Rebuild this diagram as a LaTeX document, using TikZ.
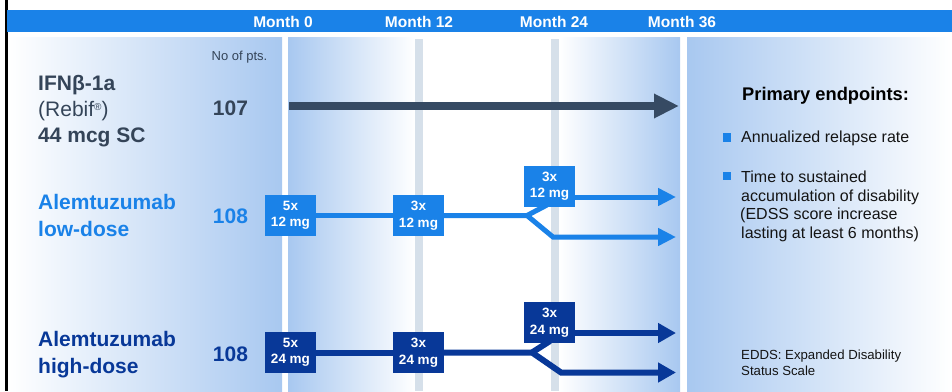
\documentclass[tikz,border=0pt]{standalone}
\usepackage{fontspec}
\setmainfont{Liberation Sans}
\usetikzlibrary{arrows.meta}
\definecolor{hdrblue}{RGB}{26,130,232}
\definecolor{panelblue}{RGB}{168,200,240}
\definecolor{navyblue}{RGB}{8,56,152}
\definecolor{slate}{RGB}{54,74,99}
\definecolor{slatetext}{RGB}{52,68,88}
\definecolor{bargray}{RGB}{214,224,234}
\definecolor{bodytext}{RGB}{20,20,20}
\pgfdeclarelayer{panels}
\pgfdeclarelayer{links}
\pgfsetlayers{panels,links,main}
\newcommand\setfs[2]{\fontsize{#1}{#2}\selectfont}
\begin{document}
\begin{tikzpicture}[x=1pt,y=-1pt,
  lbl/.style={inner sep=0pt, anchor=base west},
  clbl/.style={inner sep=0pt, anchor=base},
  month/.style={clbl, text=white, font=\bfseries\setfs{15.5}{18}},
  armname/.style={lbl, font=\bfseries\setfs{21}{26}},
  ptsnum/.style={clbl, font=\bfseries\setfs{21}{26}},
  dosebox/.style={minimum width=51pt, minimum height=41pt, inner sep=0pt,
    align=center, text=white, font=\bfseries\setfs{13.5}{16.5}},
  bodylbl/.style={lbl, text=bodytext, font=\setfs{16}{18.7}},
  bulletsq/.style={fill=hdrblue, minimum size=8.5pt, inner sep=0pt},
  ifnline/.style={draw=slate, line width=8pt, -{Triangle[length=25pt,width=23pt]}},
  lowline/.style={draw=hdrblue, line width=5pt},
  lowarrow/.style={lowline, -{Triangle[length=18pt,width=17pt]}},
  highline/.style={draw=navyblue, line width=6pt},
  higharrow/.style={highline, -{Triangle[length=18pt,width=19pt]}}
]
\useasboundingbox (0,0) rectangle (952,391);

% background panels
\begin{pgfonlayer}{panels}
\fill[black] (5,0) rectangle (7.5,391);
\fill[hdrblue] (7,10) rectangle (952,32);
\shade[left color=white,right color=panelblue] (8,37) rectangle (282,391);
\shade[left color=panelblue,right color=white] (288,37) rectangle (415,391);
\fill[bargray] (415,39) rectangle (423,391);
\fill[bargray] (551,39) rectangle (559,391);
\shade[left color=white,right color=panelblue] (559,37) rectangle (680,391);
\shade[left color=panelblue,right color=white] (687,37) rectangle (952,391);
\end{pgfonlayer}

% header
\node[month] (m0) at (283,27) {Month 0};
\node[month] (m12) at (419,27) {Month 12};
\node[month] (m24) at (554,27) {Month 24};
\node[month] (m36) at (682,27) {Month 36};

% left labels
\node[clbl, text=slatetext, font=\setfs{13}{16}] (nopts) at (239.5,60) {No of pts.};
\node[armname, text=slatetext] (ifnA) at (38,90) {IFNβ-1a};
\node[lbl, text=slatetext, font=\setfs{21}{26}] (ifnB) at (38,116) {(Rebif\raisebox{6pt}{\setfs{10}{10}®})};
\node[armname, text=slatetext] (ifnC) at (38,142) {44 mcg SC};
\node[ptsnum, text=slatetext] (n107) at (230.5,115) {107};

\node[armname, text=hdrblue] (lowA) at (38,209.5) {Alemtuzumab};
\node[armname, text=hdrblue] (lowB) at (38,236) {low-dose};
\node[ptsnum, text=hdrblue] (n108a) at (230.5,223) {108};

\node[armname, text=navyblue] (highA) at (38,346) {Alemtuzumab};
\node[armname, text=navyblue] (highB) at (38,373) {high-dose};
\node[ptsnum, text=navyblue] (n108b) at (230.5,361) {108};

% dose boxes
\node[dosebox, fill=hdrblue] (b1) at (290.5,215.5) {5x\\12 mg};
\node[dosebox, fill=hdrblue] (b2) at (418.5,215.5) {3x\\12 mg};
\node[dosebox, fill=hdrblue] (b3) at (549.5,186) {3x\\12 mg};
\node[dosebox, fill=navyblue] (h1) at (290.5,352.5) {5x\\24 mg};
\node[dosebox, fill=navyblue] (h2) at (418.5,352.5) {3x\\24 mg};
\node[dosebox, fill=navyblue] (h3) at (549.5,322.5) {3x\\24 mg};

% connector coordinates
\coordinate (ifnS) at (289,106);
\coordinate (ifnE) at (679,106);
\coordinate (lf) at (527,215.5);
\coordinate (lu) at (547,205);
\coordinate (lb) at (553,237);
\coordinate (lt) at (676,237);
\coordinate (lt2) at (676,197);
\coordinate (hf) at (532,352.5);
\coordinate (hu) at (550,341);
\coordinate (hb) at (561,372.5);
\coordinate (ht) at (676,372.5);
\coordinate (ht2) at (676,333);

\begin{pgfonlayer}{links}
\draw[ifnline] (ifnS) -- (ifnE);
\draw[lowline] (b1.east) -- (b2.west);
\draw[lowarrow] (b2.east) -- (lf) -- (lb) -- (lt);
\draw[lowline] (lf) -- (lu);
\draw[lowarrow] ([yshift=-11pt]b3.east) -- (lt2);
\draw[highline] (h1.east) -- (h2.west);
\draw[higharrow] (h2.east) -- (hf) -- (hb) -- (ht);
\draw[highline] (hf) -- (hu);
\draw[higharrow] ([yshift=-10.5pt]h3.east) -- (ht2);
\end{pgfonlayer}

% right panel text
\node[lbl, text=black, font=\bfseries\setfs{18.3}{20}] (pe) at (742,100.5) {Primary endpoints:};
\node[bulletsq] (sq1) at (727,137.5) {};
\node[bodylbl] (t1) at (741,142.5) {Annualized relapse rate};
\node[bulletsq] (sq2) at (727,176) {};
\node[bodylbl] (t2a) at (741,182.5) {Time to sustained};
\node[bodylbl] (t2b) at (741,201.2) {accumulation of disability};
\node[bodylbl] (t2c) at (740,219.9) {(EDSS score increase};
\node[bodylbl] (t2d) at (741,238.6) {lasting at least 6 months)};
\node[lbl, text=bodytext, font=\setfs{13.2}{16}] (e1) at (741,359) {EDDS: Expanded Disability};
\node[lbl, text=bodytext, font=\setfs{13.2}{16}] (e2) at (741,375) {Status Scale};
\end{tikzpicture}
\end{document}
